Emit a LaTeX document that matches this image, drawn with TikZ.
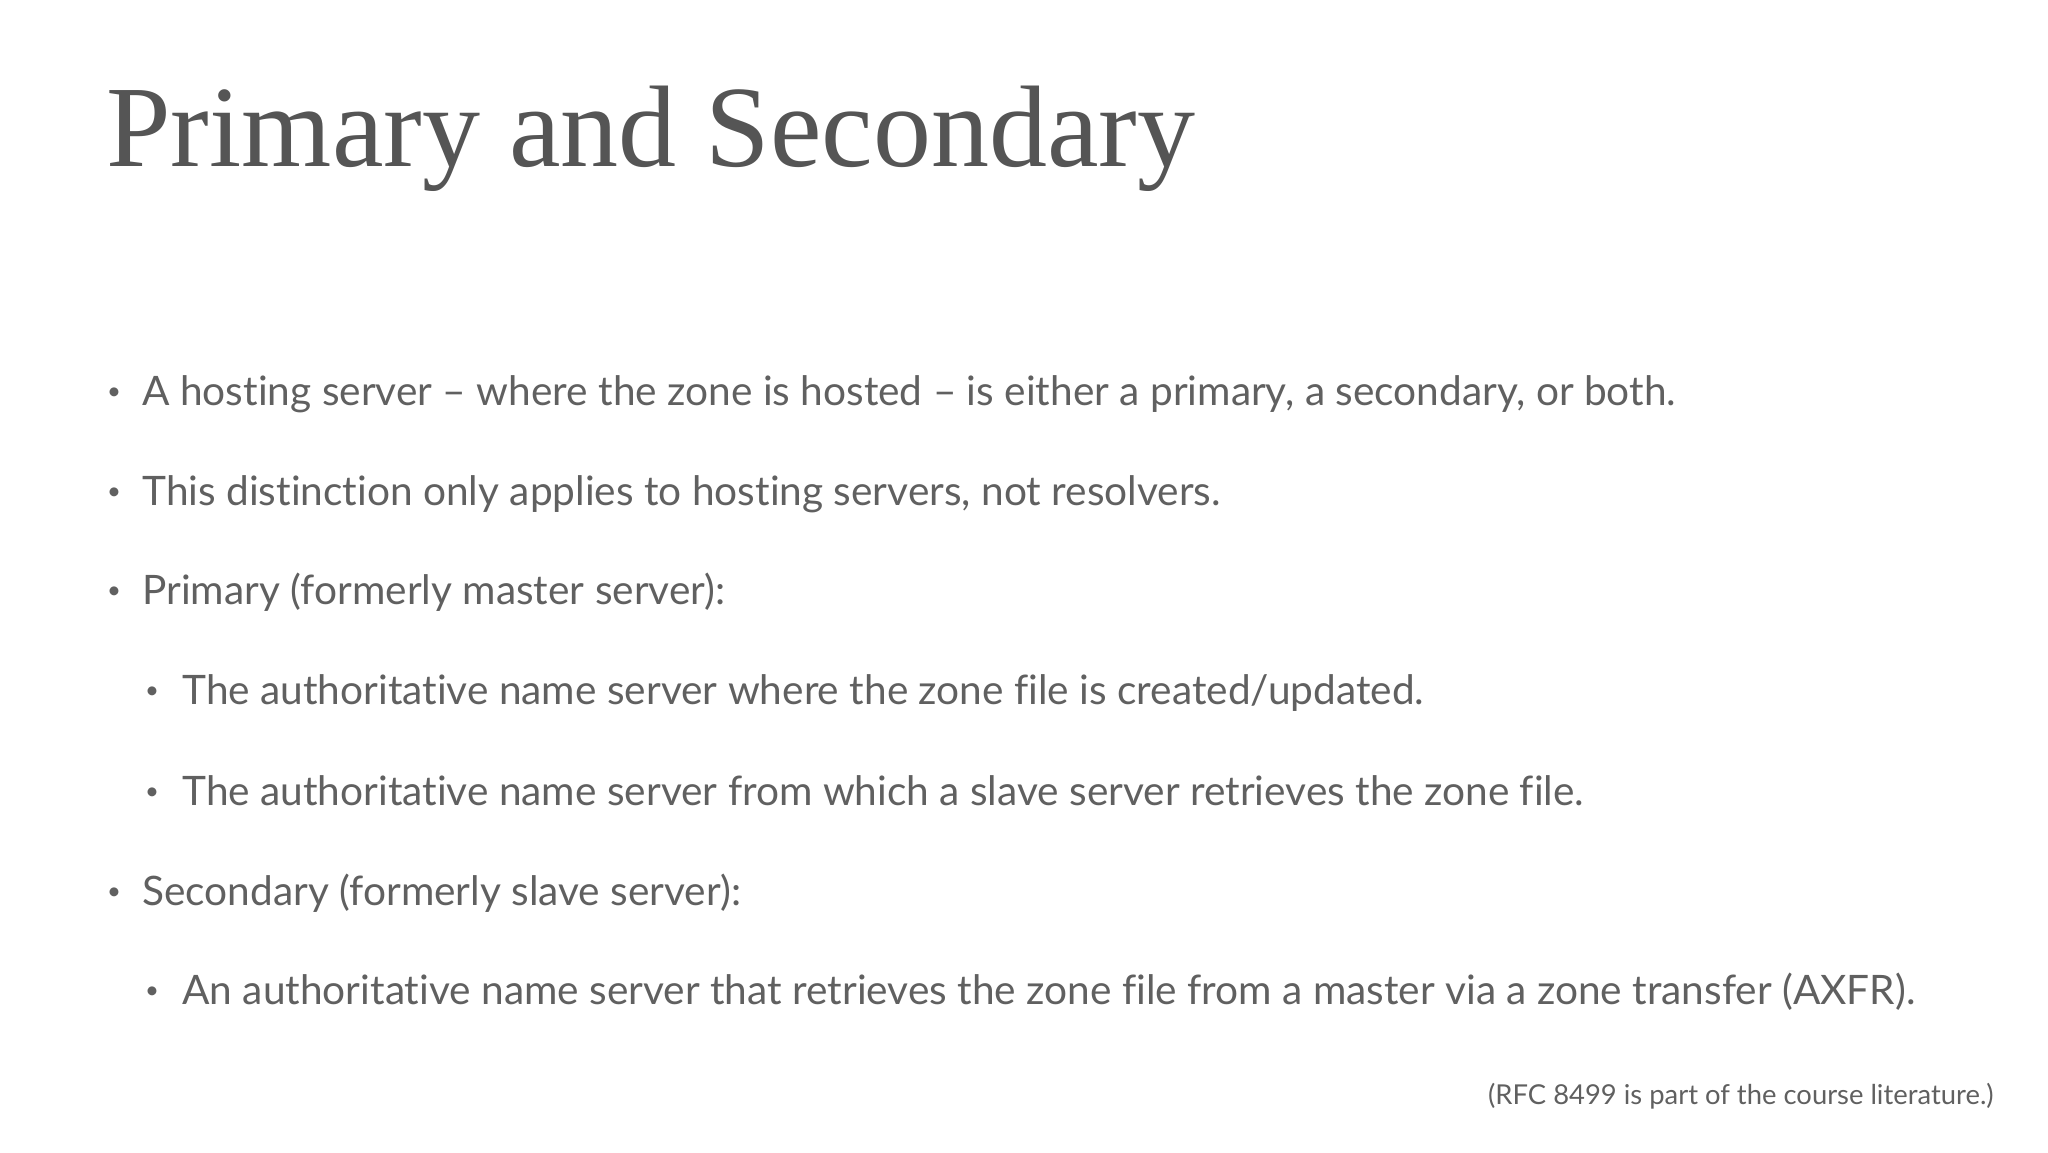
\documentclass[tikz,border=0pt]{standalone}
\usepackage{fontspec}
\setmainfont{Lato}[Ligatures=NoCommon]
\newfontfamily\titlefont{Liberation Serif}
\definecolor{txt}{HTML}{606060}
\definecolor{ttl}{HTML}{555555}
\begin{document}
\begin{tikzpicture}[x=1pt,y=1pt,
  item/.style={anchor=base west,inner sep=0,text=txt,font=\fontsize{20.3}{24}\selectfont},
  dot/.style={anchor=base,inner sep=0,text=txt,font=\fontsize{12}{14}\selectfont}]
\useasboundingbox (0,0) rectangle (1024,-576);
\node[anchor=base west,inner sep=0,text=ttl,font=\titlefont\fontsize{58}{64}\selectfont] (title) at (53,-83) {Primary and Secondary};
\foreach \n/\xb/\xt/\y/\t in {
 a/57/71/202.6/{A hosting server – where the zone is hosted – is either a primary, a secondary, or both.},
 b/57/71/252.8/{This distinction only applies to hosting servers, not resolvers.},
 c/57/71/302.3/{Primary (formerly master server):},
 d/76/91/352.4/{The authoritative name server where the zone file is created/updated.},
 e/76/91/402.6/{The authoritative name server from which a slave server retrieves the zone file.},
 f/57/71/452.7/{Secondary (formerly slave server):},
 g/76/91/502.2/{An authoritative name server that retrieves the zone file from a master via a zone transfer (AXFR).}}
{\node[dot] (b\n) at (\xb,-\y+3) {•};
 \node[item] (t\n) at (\xt,-\y) {\t};}
\node[anchor=base east,inner sep=0,text=txt,font=\fontsize{13.7}{16}\selectfont] (note) at (997,-552) {(RFC 8499 is part of the course literature.)};
\end{tikzpicture}
\end{document}
